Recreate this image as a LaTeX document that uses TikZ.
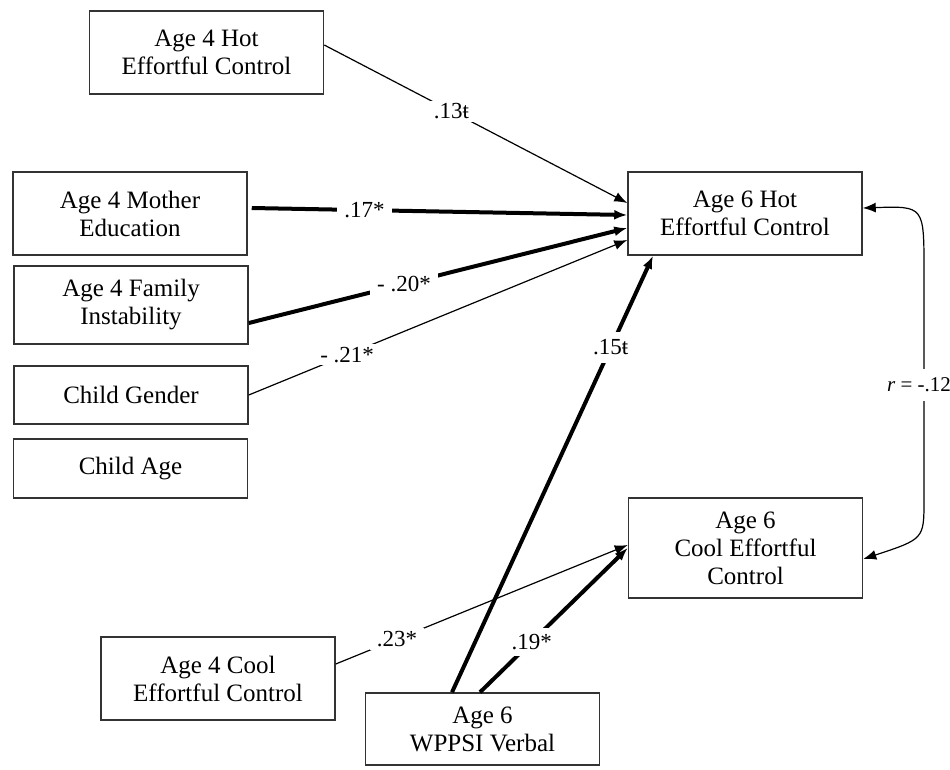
\documentclass[tikz,border=0pt]{standalone}
\usepackage{fontspec}
\setmainfont{Liberation Serif}
\usetikzlibrary{arrows.meta}
\definecolor{boxline}{rgb}{0.2,0.2,0.2}

\begin{document}
\begin{tikzpicture}[x=1pt, y=-1pt, >={Latex[length=13pt,width=10pt]},
    var/.style={draw=boxline, line width=1.5pt, fill=white, align=center, inner sep=0pt,
        minimum width=234pt, minimum height=83pt, font=\fontsize{25}{28}\selectfont},
    thin path/.style={->, line width=1.2pt},
    thick path/.style={->, line width=4pt},
    coef/.style={fill=white, inner xsep=7pt, inner ysep=3pt, font=\fontsize{23}{25}\selectfont}]
    \useasboundingbox (0,0) rectangle (950,769);

    % Predictors on the left
    \node[var] (hotfour) at (206.5,52.5) {Age 4 Hot\\Effortful Control};
    \node[var] (mothered) at (130,213.5) {Age 4 Mother\\Education};
    \node[var, minimum height=78pt] (instab) at (131,305) {Age 4 Family\\Instability};
    \node[var, minimum height=58pt] (gender) at (131,395) {Child Gender};
    \node[var, minimum height=59pt] (childage) at (130.5,468.5) {Child Age};
    \node[var] (coolfour) at (218,678.5) {Age 4 Cool\\Effortful Control};
    \node[var, minimum height=72pt] (wppsi) at (482.5,729) {Age 6\\WPPSI Verbal};

    % Outcomes on the right
    \node[var] (hotsix) at (745,213.5) {Age 6 Hot\\Effortful Control};
    \node[var, minimum height=100pt] (coolsix) at (745.5,548) {Age 6\\Cool Effortful\\Control};

    % Paths to the hot outcome
    \draw[thin path] ([yshift=7.5pt]hotfour.east) -- node[coef, pos=0.42] {.13ŧ} ([yshift=10.5pt]hotsix.west);
    \draw[thick path] ([xshift=4pt, yshift=5.5pt]mothered.east) -- node[coef, pos=0.3] {.17*} ([yshift=-1.5pt]hotsix.west);
    \draw[thick path] ([yshift=-18pt]instab.east) -- node[coef, pos=0.41] {- .20*} ([yshift=-14.5pt]hotsix.west);
    \draw[thin path] (gender.east) -- node[coef, pos=0.26] {- .21*} ([yshift=-26.5pt]hotsix.west);
    \draw[thick path] ([xshift=-30.5pt]wppsi.north) -- node[coef, pos=0.79, inner ysep=8pt] {.15ŧ} ([xshift=-92pt]hotsix.south);

    % Paths to the cool outcome
    \draw[thin path] ([yshift=14.5pt]coolfour.east) -- node[coef, pos=0.21] {.23*} ([yshift=3pt]coolsix.west);
    \draw[thick path] ([xshift=-2.5pt]wppsi.north) -- node[coef, pos=0.35, inner ysep=6pt] {.19*} (coolsix.west);

    % Correlation between the outcomes
    \draw[<->, line width=1.2pt] ([yshift=5.5pt]hotsix.east) .. controls (924,206) .. (924,270)
        -- node[coef, inner xsep=1pt, inner ysep=9pt, xshift=-5pt, font=\fontsize{21}{23}\selectfont] {\textit{r} = -.12} (924,500)
        .. controls (924,539) .. ([yshift=-11pt]coolsix.east);
\end{tikzpicture}
\end{document}
